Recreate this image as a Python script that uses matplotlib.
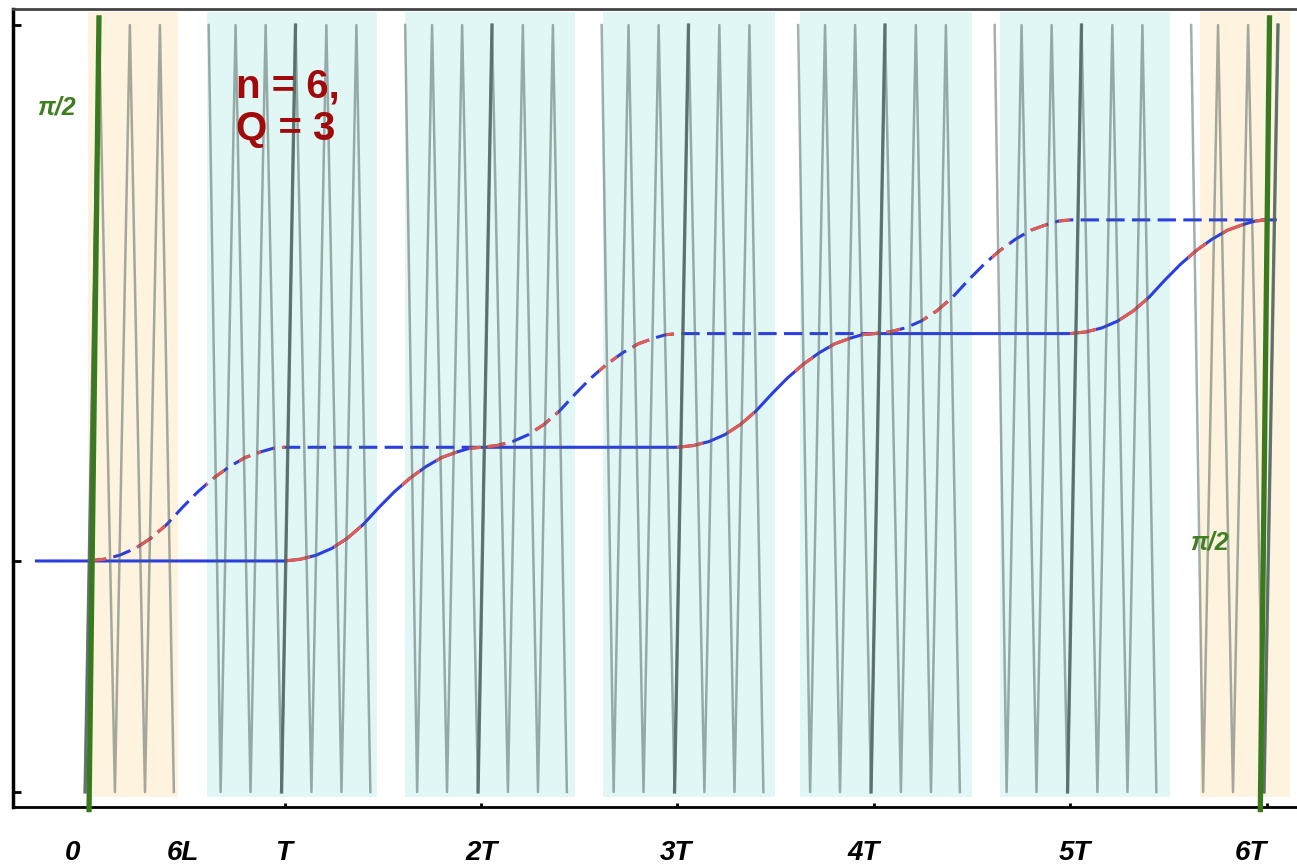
import numpy as np
import matplotlib
matplotlib.use('Agg')
import matplotlib.pyplot as plt
from matplotlib.path import Path
from matplotlib.patches import PathPatch

plt.rcParams['font.family'] = ['Liberation Sans', 'DejaVu Sans']

# time axis in units of T, phase axis in units of one step
tick_x = [0, 1, 2, 3, 4, 5, 6]
tick_labels = ['0', '6L', 'T', '2T', '3T', '4T', '5T', '6T']
label_x = [-0.081, 0.483, 0.997, 2.005, 2.992, 3.949, 5.023, 5.919]
y_ticks = [-2.032, 0, 4.714]

rise_u = [0, 0.08, 0.16, 0.24, 0.32, 0.40, 0.48, 0.56, 0.64, 0.72, 0.80, 0.88, 0.94, 1.0]
rise_f = [0, 0.015, 0.05, 0.11, 0.20, 0.32, 0.47, 0.61, 0.73, 0.83, 0.91, 0.96, 0.99, 1.0]
red_spans = [(0, 0.13), (0.25, 0.39), (0.6, 0.69), (0.77, 0.88), (0.94, 1.0)]

# solid curve: (start of rise, level before rise)
solid_start = -0.27
solid_rises = [1, 3, 5]
solid_end = 6.0
dashed_start = 0.0
dashed_rises = [0, 2, 4]
dashed_end = 6.05
levels = [0, 1, 2, 3]

# shaded windows
orange_bands = [(0.0, 0.458), (5.659, 6.117)]
cyan_bands = [(0.606, 1.471), (1.613, 2.478), (2.621, 3.496), (3.623, 4.499), (4.641, 5.506)]
band_lo, band_hi = -2.076, 4.828

# zigzag vertex offsets around each multiple of T
zig_top = [-0.386, -0.249, -0.096, 0.056, 0.213, 0.366]
zig_bot = [-0.325, -0.173, -0.015, 0.137, 0.290, 0.437]

# tilted pi/2 pulses: (x at bottom, x at top)
green_left = (0.005, 0.056)
green_right = (5.966, 6.013)
green_lo, green_hi = -2.21, 4.80


def build_curve(x0, rises, x1):
    xs, ys = [x0], [0]
    for i, s in enumerate(rises):
        xs += [s + u for u in rise_u]
        ys += [levels[i] + f for f in rise_f]
    xs.append(x1)
    ys.append(ys[-1])
    return xs, ys


def red_clip(ax, rises):
    paths = []
    for s in rises:
        for a, b in red_spans:
            paths.append(Path([(s + a, -3), (s + b, -3), (s + b, 6), (s + a, 6), (s + a, -3)],
                              [Path.MOVETO, Path.LINETO, Path.LINETO, Path.LINETO, Path.CLOSEPOLY]))
    return PathPatch(Path.make_compound_path(*paths), transform=ax.transData)


fig = plt.figure(figsize=(12.97, 8.65), dpi=100)
ax = fig.add_axes([13 / 1297, 58 / 865, 1287 / 1297, 798 / 865])
ax.set_xlim(-0.3817, 6.168)
ax.set_ylim(-2.164, 4.855)

for a, b in orange_bands:
    ax.fill_between([a, b], band_lo, band_hi, color='#fdf3de', lw=0, zorder=0)
for a, b in cyan_bands:
    ax.fill_between([a, b], band_lo, band_hi, color='#e1f7f5', lw=0, zorder=0)

# blue/red phase curves
blue = '#2b3fe0'
red = '#e8594e'
sx, sy = build_curve(solid_start, solid_rises, solid_end)
dx, dy = build_curve(dashed_start, dashed_rises, dashed_end)
ax.plot(sx, sy, color=blue, lw=2.2, zorder=2, solid_capstyle='butt')
ln, = ax.plot(sx, sy, color=red, lw=2.2, zorder=2.1, solid_capstyle='butt')
ln.set_clip_path(red_clip(ax, solid_rises))
ax.plot(dx, dy, color=blue, lw=2.2, ls=(0, (6, 2.4)), zorder=2)
ln, = ax.plot(dx, dy, color=red, lw=2.2, ls=(0, (6, 2.4)), zorder=2.1)
ln.set_clip_path(red_clip(ax, dashed_rises))

# zigzag field lines
y_top, y_bot = y_ticks[2], y_ticks[0]
for k in range(7):
    xs, ys = [], []
    for t, b in zip(zig_top, zig_bot):
        xs += [k + t, k + b]
        ys += [y_top, y_bot]
    if k == 0:
        xs, ys = xs[5:], ys[5:]
    if k == 6:
        xs, ys = xs[:7], ys[:7]
    ax.plot(xs, ys, color='#4a5e5a', lw=1.8, alpha=0.5, zorder=3)
    ax.plot([k + zig_bot[2], k + zig_top[3]], [y_bot, y_top], color='#4e6360',
            lw=2.4, alpha=0.8, zorder=3)

for lo, hi in [green_left, green_right]:
    ax.plot([lo, hi], [green_lo, green_hi], color='#3a7a1e', lw=3.8, zorder=5,
            solid_capstyle='butt', clip_on=False)

ax.text(-0.26, 3.99, 'π/2', color='#3f7f1f', fontsize=18, fontweight='bold',
        fontstyle='italic', ha='left', va='center', zorder=6)
ax.text(5.61, 0.16, 'π/2', color='#3f7f1f', fontsize=18, fontweight='bold',
        fontstyle='italic', ha='left', va='center', zorder=6)
ax.text(0.755, 3.99, 'n = 6,\nQ = 3', color='#a00a0a', fontsize=29, fontweight='bold',
        ha='left', va='center', linespacing=1.15, zorder=6)

for lx, lab in zip(label_x, tick_labels):
    ax.text(lx, -0.058, lab, transform=ax.get_xaxis_transform(), fontsize=20,
            fontweight='bold', fontstyle='italic', ha='center', va='center')

ax.set_xticks(tick_x)
ax.set_yticks(y_ticks)
ax.set_xticklabels([])
ax.set_yticklabels([])
ax.tick_params(axis='x', direction='in', length=3, width=2)
ax.tick_params(axis='y', direction='in', length=6, width=2)
ax.spines['right'].set_visible(False)
ax.spines['left'].set_linewidth(2.5)
ax.spines['bottom'].set_linewidth(2)
ax.spines['top'].set_linewidth(2)
ax.spines['top'].set_color('#444444')

fig.savefig('out.png', dpi=100)
